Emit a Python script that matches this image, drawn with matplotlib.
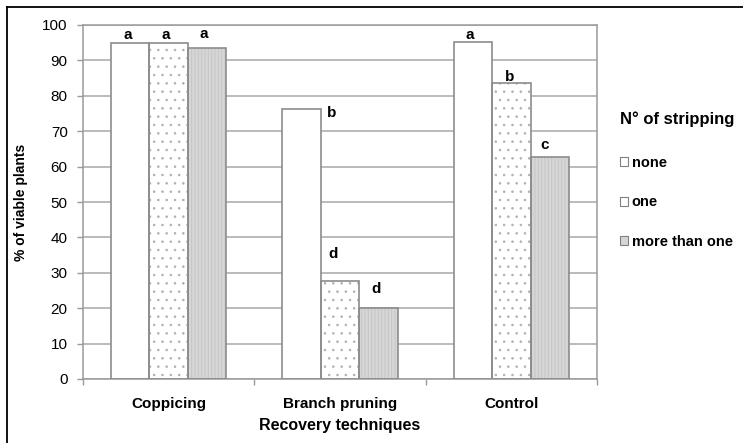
import numpy as np
import matplotlib
matplotlib.use('Agg')
import matplotlib.pyplot as plt
from matplotlib.patches import Patch
from matplotlib.lines import Line2D

plt.rcParams['font.family'] = ['Liberation Sans', 'DejaVu Sans']
plt.rcParams['hatch.linewidth'] = 0.6

categories = ['Coppicing', 'Branch pruning', 'Control']
series = ['none', 'one', 'more than one']
none_vals = [94.8, 76.2, 95.1]
one_vals = [94.8, 27.6, 83.5]
more_vals = [93.4, 20.1, 62.6]
letters = [['a', 'b', 'a'], ['a', 'd', 'b'], ['a', 'd', 'c']]   # per series, per category

# label nudges (dx in bar widths, dy in % units) per series, per category
dx_lab = [[-0.06, 0.78, -0.08], [-0.08, -0.18, -0.04], [-0.09, -0.07, -0.13]]
dy_lab = [[1.3, -2.1, 0.9], [1.3, 6.7, 0.7], [2.8, 4.2, 2.4]]

faces = ['white', 'white', '#d6d6d6']
hatches = [None, '..', '|||||']
hatch_cols = ['#909090', '#b0b0b0', '#c4c4c4']
edge = '#8c8c8c'

fig = plt.figure(figsize=(7.43, 4.43), dpi=100)
ax = fig.add_axes([83/743, 64/443, 514/743, 354/443])

x = np.arange(len(categories))
w = 0.224
vals = [none_vals, one_vals, more_vals]
for i, v in enumerate(vals):
    pos = x + (i - 1) * w
    ax.bar(pos, v, w, color=faces[i], hatch=hatches[i], edgecolor=hatch_cols[i],
           linewidth=0, zorder=2)
    ax.bar(pos, v, w, fill=False, edgecolor=edge, linewidth=1.2, zorder=3)
    for j in range(len(categories)):
        ax.text(pos[j] + dx_lab[i][j] * w, v[j] + dy_lab[i][j], letters[i][j],
                ha='center', va='baseline', fontsize=11, fontweight='bold', zorder=4)

ax.set_xlim(-0.5, 2.5)
ax.set_ylim(0, 100)
ax.set_yticks(np.arange(0, 101, 10))
ax.yaxis.grid(True, color='#a8a8a8', linewidth=1.1, zorder=0)
ax.set_axisbelow(True)
for s in ax.spines.values():
    s.set_color('#9a9a9a')
    s.set_linewidth(1.1)

ax.set_xticks(x)
ax.set_xticklabels(categories, fontsize=11, fontweight='bold')
ax.set_xticks([-0.5, 0.5, 1.5, 2.5], minor=True)
ax.tick_params(axis='x', which='major', length=0, pad=13)
ax.tick_params(axis='x', which='minor', length=4, color='#9a9a9a', width=1)
ax.tick_params(axis='y', length=4, color='#9a9a9a', width=1, pad=7, labelsize=11)

ax.set_xlabel('Recovery techniques', fontsize=11.5, fontweight='bold', labelpad=5)
ax.set_ylabel('% of viable plants', fontsize=10, fontweight='bold', labelpad=10)

handles = [Patch(facecolor=faces[i], edgecolor='#808080', linewidth=0.8)
           for i in range(3)]
leg = ax.legend(handles, series, loc='upper left', bbox_to_anchor=(607/743, 1 - 98/443),
                bbox_transform=fig.transFigure, frameon=False, handlelength=0.55,
                handleheight=0.55, handletextpad=0.25, labelspacing=1.75,
                prop={'weight': 'bold', 'size': 10.5}, title='N° of stripping',
                title_fontproperties={'weight': 'bold', 'size': 12}, alignment='left')
leg._legend_box.sep = 21

# outer frame (top and left edges visible)
fig.add_artist(Line2D([7/743, 1], [1 - 7/443, 1 - 7/443], color='black', lw=1.3,
                      transform=fig.transFigure))
fig.add_artist(Line2D([7/743, 7/743], [0, 1 - 7/443], color='black', lw=1.3,
                      transform=fig.transFigure))

fig.savefig('out.png', dpi=100)
